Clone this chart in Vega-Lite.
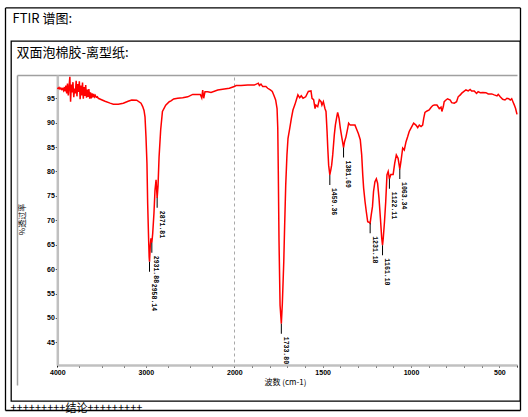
{
  "$schema": "https://vega.github.io/schema/vega-lite/v6.json",
  "width": 509,
  "height": 360,
  "autosize": {"type": "none"},
  "padding": {"left": 11, "top": 41, "right": 8, "bottom": 16},
  "background": "white",
  "config": {
    "view": {"stroke": "black", "strokeWidth": 1.3},
    "font": "Liberation Sans",
    "axis": {"labelColor": "black", "titleColor": "black", "labelOverlap": false, "labelBound": false, "labelFlush": false}
  },
  "datasets": {
    "spectrum": [
      {"wn": 4000, "T": 97.1}, {"wn": 3990, "T": 97.0}, {"wn": 3980, "T": 97.2}, {"wn": 3970, "T": 96.9},
      {"wn": 3960, "T": 97.1}, {"wn": 3950, "T": 96.8}, {"wn": 3940, "T": 97.0}, {"wn": 3930, "T": 96.6},
      {"wn": 3920, "T": 97.3}, {"wn": 3912, "T": 96.4}, {"wn": 3903, "T": 97.6}, {"wn": 3894, "T": 96.0},
      {"wn": 3885, "T": 98.0}, {"wn": 3876, "T": 95.6}, {"wn": 3867, "T": 97.4}, {"wn": 3858, "T": 99.4},
      {"wn": 3850, "T": 94.3}, {"wn": 3841, "T": 97.8}, {"wn": 3832, "T": 96.2}, {"wn": 3823, "T": 98.3},
      {"wn": 3814, "T": 95.2}, {"wn": 3805, "T": 97.0}, {"wn": 3796, "T": 96.0}, {"wn": 3787, "T": 98.6},
      {"wn": 3778, "T": 95.4}, {"wn": 3769, "T": 97.9}, {"wn": 3760, "T": 96.3}, {"wn": 3751, "T": 98.5},
      {"wn": 3742, "T": 94.8}, {"wn": 3733, "T": 97.6}, {"wn": 3724, "T": 95.6}, {"wn": 3715, "T": 98.2},
      {"wn": 3706, "T": 94.9}, {"wn": 3697, "T": 97.3}, {"wn": 3688, "T": 95.5}, {"wn": 3679, "T": 97.7},
      {"wn": 3670, "T": 95.1}, {"wn": 3661, "T": 96.8}, {"wn": 3652, "T": 95.3}, {"wn": 3643, "T": 96.9},
      {"wn": 3634, "T": 94.9}, {"wn": 3625, "T": 96.2}, {"wn": 3616, "T": 95.0}, {"wn": 3607, "T": 96.0},
      {"wn": 3598, "T": 95.2}, {"wn": 3589, "T": 95.9}, {"wn": 3580, "T": 95.3}, {"wn": 3571, "T": 95.6},
      {"wn": 3560, "T": 95.2}, {"wn": 3548, "T": 95.3}, {"wn": 3537, "T": 95.0}, {"wn": 3500, "T": 94.7},
      {"wn": 3461, "T": 94.4}, {"wn": 3404, "T": 94.0}, {"wn": 3367, "T": 93.8}, {"wn": 3311, "T": 93.8},
      {"wn": 3254, "T": 94.0}, {"wn": 3200, "T": 94.4}, {"wn": 3159, "T": 94.65}, {"wn": 3103, "T": 94.6},
      {"wn": 3054, "T": 94.0}, {"wn": 3035, "T": 93.3}, {"wn": 3020, "T": 92.5}, {"wn": 3009, "T": 91.2},
      {"wn": 2998, "T": 87.1}, {"wn": 2987, "T": 81.7}, {"wn": 2979, "T": 73.5}, {"wn": 2968, "T": 66.0},
      {"wn": 2962, "T": 62.5}, {"wn": 2958.14, "T": 61.5}, {"wn": 2950, "T": 64.5}, {"wn": 2942, "T": 66.3},
      {"wn": 2937, "T": 65.8}, {"wn": 2931.88, "T": 65.4}, {"wn": 2922, "T": 67.3}, {"wn": 2908, "T": 71.4},
      {"wn": 2896, "T": 76.2}, {"wn": 2884, "T": 78.3}, {"wn": 2871.81, "T": 74.6}, {"wn": 2862, "T": 77.0},
      {"wn": 2850, "T": 83.0}, {"wn": 2832, "T": 88.5}, {"wn": 2812, "T": 92.3}, {"wn": 2775, "T": 93.6},
      {"wn": 2735, "T": 94.3}, {"wn": 2715, "T": 94.45}, {"wn": 2685, "T": 94.85}, {"wn": 2640, "T": 95.0},
      {"wn": 2583, "T": 95.1}, {"wn": 2526, "T": 95.3}, {"wn": 2470, "T": 95.8}, {"wn": 2384, "T": 95.8},
      {"wn": 2368, "T": 95.1}, {"wn": 2357, "T": 96.7}, {"wn": 2346, "T": 95.0}, {"wn": 2331, "T": 96.35},
      {"wn": 2300, "T": 96.35}, {"wn": 2263, "T": 96.2}, {"wn": 2187, "T": 96.7}, {"wn": 2113, "T": 96.9},
      {"wn": 2056, "T": 97.05}, {"wn": 2000, "T": 97.4}, {"wn": 1990, "T": 97.6}, {"wn": 1962, "T": 97.6},
      {"wn": 1924, "T": 97.7}, {"wn": 1887, "T": 97.7}, {"wn": 1864, "T": 98.1}, {"wn": 1858, "T": 97.6},
      {"wn": 1849, "T": 97.9}, {"wn": 1839, "T": 97.4}, {"wn": 1821, "T": 97.4}, {"wn": 1811, "T": 97.05},
      {"wn": 1796, "T": 96.7}, {"wn": 1785, "T": 96.4}, {"wn": 1775, "T": 95.5}, {"wn": 1766, "T": 94.65},
      {"wn": 1758, "T": 92.9}, {"wn": 1754, "T": 88.9}, {"wn": 1751, "T": 80.0}, {"wn": 1747, "T": 66.0},
      {"wn": 1741, "T": 52.6}, {"wn": 1733.8, "T": 48.8}, {"wn": 1728, "T": 53.0}, {"wn": 1720, "T": 61.5},
      {"wn": 1715, "T": 69.0}, {"wn": 1709, "T": 77.2}, {"wn": 1702, "T": 83.4}, {"wn": 1696, "T": 86.8},
      {"wn": 1686, "T": 88.9}, {"wn": 1677, "T": 90.9}, {"wn": 1668, "T": 92.6}, {"wn": 1658, "T": 93.6},
      {"wn": 1649, "T": 94.65}, {"wn": 1640, "T": 95.7}, {"wn": 1630, "T": 95.1}, {"wn": 1621, "T": 95.5},
      {"wn": 1611, "T": 95.0}, {"wn": 1596, "T": 95.3}, {"wn": 1581, "T": 96.4}, {"wn": 1566, "T": 96.5},
      {"wn": 1560, "T": 95.0}, {"wn": 1551, "T": 94.7}, {"wn": 1543, "T": 92.9}, {"wn": 1538, "T": 93.6},
      {"wn": 1528, "T": 93.3}, {"wn": 1519, "T": 94.7}, {"wn": 1509, "T": 94.3}, {"wn": 1504, "T": 93.6},
      {"wn": 1496, "T": 94.3}, {"wn": 1487, "T": 92.9}, {"wn": 1481, "T": 92.3}, {"wn": 1475, "T": 88.2},
      {"wn": 1471, "T": 84.8}, {"wn": 1466, "T": 81.3}, {"wn": 1459.36, "T": 79.3}, {"wn": 1454, "T": 80.3},
      {"wn": 1449, "T": 81.3}, {"wn": 1443, "T": 83.4}, {"wn": 1434, "T": 87.5}, {"wn": 1428, "T": 89.5},
      {"wn": 1420, "T": 91.2}, {"wn": 1415, "T": 92.1}, {"wn": 1407, "T": 90.9}, {"wn": 1400, "T": 88.9},
      {"wn": 1392, "T": 87.1}, {"wn": 1381.69, "T": 84.9}, {"wn": 1376, "T": 86.1}, {"wn": 1368, "T": 87.1},
      {"wn": 1358, "T": 88.9}, {"wn": 1353, "T": 89.9}, {"wn": 1344, "T": 89.5}, {"wn": 1330, "T": 89.5},
      {"wn": 1317, "T": 89.5}, {"wn": 1306, "T": 88.5}, {"wn": 1298, "T": 87.8}, {"wn": 1287, "T": 86.5},
      {"wn": 1279, "T": 83.4}, {"wn": 1273, "T": 79.3}, {"wn": 1268, "T": 76.6}, {"wn": 1260, "T": 73.8},
      {"wn": 1253, "T": 71.8}, {"wn": 1245, "T": 69.7}, {"wn": 1238, "T": 69.6}, {"wn": 1231.18, "T": 69.4},
      {"wn": 1225, "T": 71.1}, {"wn": 1218, "T": 72.8}, {"wn": 1212, "T": 75.9}, {"wn": 1204, "T": 77.9},
      {"wn": 1196, "T": 78.5}, {"wn": 1189, "T": 77.6}, {"wn": 1181, "T": 74.5}, {"wn": 1173, "T": 70.4},
      {"wn": 1166, "T": 66.5}, {"wn": 1161.1, "T": 64.9}, {"wn": 1157, "T": 66.3}, {"wn": 1150, "T": 69.7},
      {"wn": 1143, "T": 73.8}, {"wn": 1136, "T": 79.3}, {"wn": 1129, "T": 80.0}, {"wn": 1122.11, "T": 78.5},
      {"wn": 1114, "T": 79.4}, {"wn": 1101, "T": 79.4}, {"wn": 1092, "T": 81.7}, {"wn": 1083, "T": 83.4},
      {"wn": 1073, "T": 82.7}, {"wn": 1063.34, "T": 80.5}, {"wn": 1057, "T": 82.0}, {"wn": 1047, "T": 84.8},
      {"wn": 1038, "T": 84.4}, {"wn": 1028, "T": 86.1}, {"wn": 1019, "T": 87.1}, {"wn": 1010, "T": 88.2},
      {"wn": 1000, "T": 88.9}, {"wn": 985, "T": 89.9}, {"wn": 972, "T": 89.5}, {"wn": 962, "T": 89.0},
      {"wn": 953, "T": 89.5}, {"wn": 943, "T": 89.2}, {"wn": 934, "T": 89.5}, {"wn": 928, "T": 90.9},
      {"wn": 921, "T": 92.1}, {"wn": 909, "T": 92.4}, {"wn": 897, "T": 92.6}, {"wn": 887, "T": 93.1},
      {"wn": 877, "T": 93.5}, {"wn": 868, "T": 93.6}, {"wn": 853, "T": 93.6}, {"wn": 840, "T": 92.9},
      {"wn": 830, "T": 93.2}, {"wn": 825, "T": 92.3}, {"wn": 817, "T": 93.3}, {"wn": 812, "T": 94.3},
      {"wn": 802, "T": 94.65}, {"wn": 793, "T": 94.9}, {"wn": 778, "T": 94.65}, {"wn": 770, "T": 94.1},
      {"wn": 755, "T": 94.0}, {"wn": 742, "T": 94.3}, {"wn": 733, "T": 95.3}, {"wn": 721, "T": 95.7},
      {"wn": 714, "T": 96.0}, {"wn": 702, "T": 96.35}, {"wn": 689, "T": 96.7}, {"wn": 676, "T": 96.5},
      {"wn": 665, "T": 96.8}, {"wn": 657, "T": 96.5}, {"wn": 642, "T": 96.5}, {"wn": 629, "T": 96.0},
      {"wn": 620, "T": 96.35}, {"wn": 608, "T": 96.15}, {"wn": 594, "T": 96.2}, {"wn": 576, "T": 96.15},
      {"wn": 563, "T": 95.9}, {"wn": 543, "T": 95.9}, {"wn": 529, "T": 95.7}, {"wn": 513, "T": 95.5},
      {"wn": 506, "T": 95.8}, {"wn": 495, "T": 95.3}, {"wn": 481, "T": 94.8}, {"wn": 468, "T": 94.65},
      {"wn": 457, "T": 95.0}, {"wn": 447, "T": 94.9}, {"wn": 438, "T": 94.65}, {"wn": 430, "T": 94.9},
      {"wn": 423, "T": 94.3}, {"wn": 415, "T": 93.6}, {"wn": 408, "T": 92.9}, {"wn": 400, "T": 91.7}
    ],
    "peaks": [
      {"wn": 2958.14, "T": 61.5, "label": "2958.14"},
      {"wn": 2931.88, "T": 65.4, "label": "2931.88"},
      {"wn": 2871.81, "T": 74.6, "label": "2871.81"},
      {"wn": 1733.80, "T": 48.8, "label": "1733.80"},
      {"wn": 1459.36, "T": 79.3, "label": "1459.36"},
      {"wn": 1381.69, "T": 84.9, "label": "1381.69"},
      {"wn": 1231.18, "T": 69.4, "label": "1231.18"},
      {"wn": 1161.10, "T": 64.9, "label": "1161.10"},
      {"wn": 1122.11, "T": 78.5, "label": "1122.11"},
      {"wn": 1063.34, "T": 80.5, "label": "1063.34"}
    ]
  },
  "layer": [
    {
      "layer": [
        {
          "data": {"name": "spectrum"},
          "mark": {"type": "line", "color": "#ff0000", "strokeWidth": 1.5},
          "encoding": {
            "x": {
              "field": "wn", "type": "quantitative",
              "scale": {"domain": [4000, 2000, 400], "range": [46.3, 223.3, 506], "nice": false, "zero": false},
              "axis": {
                "orient": "bottom", "offset": -36, "tickCount": 200,
                "values": [4000, 3750, 3500, 3250, 3000, 2750, 2500, 2250, 2000, 1900, 1800, 1700, 1600, 1500, 1400, 1300, 1200, 1100, 1000, 900, 800, 700, 600, 500, 400],
                "format": "d",
                "labelExpr": "indexof([4000,3000,2000,1500,1000,500], datum.value) >= 0 ? datum.label : ''",
                "domainColor": "#c0c0c0", "domainWidth": 2.5,
                "tickColor": "black", "tickSize": 2, "tickWidth": 1,
                "labelFont": "Liberation Sans", "labelFontSize": 7, "labelFontWeight": "bold",
                "labelPadding": 1.5, "labelFlush": false, "labelOverlap": false, "labelBound": false,
                "grid": true, "gridDash": [3, 3], "gridColor": "#a8a8a8",
                "gridOpacity": {"condition": {"test": "datum.value == 2000", "value": 1}, "value": 0},
                "title": "波数 (cm-1)", "titleX": 274, "titleY": 17, "titleAlign": "center", "titleBaseline": "middle",
                "titleFont": "Noto Sans CJK SC", "titleFontSize": 8, "titleFontWeight": "normal"
              }
            },
            "y": {
              "field": "T", "type": "quantitative",
              "scale": {"domain": [40.35, 99.77], "range": [324, 34], "nice": false, "zero": false},
              "axis": {
                "orient": "left", "offset": -46.3, "tickCount": 200,
                "values": [45, 50, 55, 60, 65, 70, 75, 80, 85, 90, 95],
                "format": "d",
                "domainColor": "#c0c0c0", "domainWidth": 2.5,
                "tickColor": "black", "tickSize": 2, "tickWidth": 1,
                "labelFont": "Liberation Sans", "labelFontSize": 7, "labelFontWeight": "bold", "labelPadding": 1,
                "labelOverlap": false, "labelBound": false,
                "grid": false,
                "title": "%透过率", "titleX": -34.8, "titleY": 178, "titleAngle": -90,
                "titleAlign": "center", "titleBaseline": "middle",
                "titleFont": "Noto Sans CJK SC", "titleFontSize": 8, "titleFontWeight": "normal"
              }
            }
          }
        },
        {
          "data": {"name": "peaks"},
          "mark": {"type": "tick", "orient": "vertical", "color": "black", "size": 10, "thickness": 1, "yOffset": 5, "opacity": 1},
          "encoding": {
            "x": {"field": "wn", "type": "quantitative"},
            "y": {"field": "T", "type": "quantitative"}
          }
        },
        {
          "data": {"name": "peaks"},
          "transform": [{"filter": "datum.label != '2958.14'"}],
          "mark": {"type": "text", "angle": 90, "align": "left", "baseline": "alphabetic", "yOffset": 13, "xOffset": 2.5,
                   "font": "Liberation Mono", "fontSize": 6.5, "fontWeight": "bold", "color": "black"},
          "encoding": {
            "x": {"field": "wn", "type": "quantitative"},
            "y": {"field": "T", "type": "quantitative"},
            "text": {"field": "label"}
          }
        },
        {
          "data": {"name": "peaks"},
          "transform": [{"filter": "datum.label == '2958.14'"}],
          "mark": {"type": "text", "angle": 90, "align": "left", "baseline": "alphabetic", "yOffset": 22, "xOffset": 2.5,
                   "font": "Liberation Mono", "fontSize": 6.5, "fontWeight": "bold", "color": "black"},
          "encoding": {
            "x": {"field": "wn", "type": "quantitative"},
            "y": {"field": "T", "type": "quantitative"},
            "text": {"field": "label"}
          }
        }
      ]
    },
    {
      "data": {"name": "peaks"},
      "mark": {"type": "point", "opacity": 0},
      "encoding": {
        "x": {
          "field": "wn", "type": "quantitative",
          "scale": {"domain": [4000, 400], "range": [6, 506], "nice": false, "zero": false},
          "axis": {
            "orient": "top", "offset": -34, "domainColor": "#a0a0a0", "domainWidth": 1.5,
            "ticks": false, "labels": false, "grid": false,
            "title": "双面泡棉胶-离型纸:", "titleX": 5, "titleY": -23, "titleAlign": "left", "titleBaseline": "middle", "titleAngle": 0,
            "titleFont": "Noto Sans CJK SC", "titleFontSize": 13, "titleFontWeight": "normal"
          }
        },
        "y": {
          "field": "T", "type": "quantitative",
          "scale": {"domain": [40, 100], "range": [344, 34], "nice": false, "zero": false},
          "axis": {"orient": "left", "offset": -6, "domainColor": "#a0a0a0", "domainWidth": 1.5, "ticks": false, "labels": false, "grid": false, "title": null}
        }
      }
    },
    {
      "data": {"name": "peaks"},
      "mark": {"type": "point", "opacity": 0},
      "encoding": {
        "x": {
          "field": "wn", "type": "quantitative",
          "scale": {"domain": [4000, 400], "range": [-6, 509], "nice": false, "zero": false},
          "axis": {
            "orient": "top", "offset": 33.6, "domainColor": "black", "domainWidth": 1.3,
            "ticks": false, "labels": false, "grid": false,
            "title": "FTIR 谱图:", "titleX": 1, "titleY": 10.9, "titleAlign": "left", "titleBaseline": "middle", "titleAngle": 0,
            "titleFont": "Noto Sans CJK SC", "titleFontSize": 13, "titleFontWeight": "normal"
          }
        },
        "y": {
          "field": "T", "type": "quantitative",
          "scale": {"domain": [40, 100], "range": [369, -33.6], "nice": false, "zero": false},
          "axis": {"orient": "left", "offset": 6, "domainColor": "black", "domainWidth": 1.3, "ticks": false, "labels": false, "grid": false, "title": null}
        }
      }
    },
    {
      "data": {"name": "peaks"},
      "mark": {"type": "point", "opacity": 0},
      "encoding": {
        "x": {
          "field": "wn", "type": "quantitative",
          "scale": {"domain": [4000, 400], "range": [-6, 509], "nice": false, "zero": false},
          "axis": {
            "orient": "bottom", "offset": 9, "domainColor": "black", "domainWidth": 1.3,
            "ticks": false, "labels": false, "grid": false,
            "title": "+++++++++结论+++++++++", "titleX": -1, "titleY": -1.5, "titleAlign": "left", "titleBaseline": "middle", "titleAngle": 0,
            "titleFont": "Noto Sans CJK SC", "titleFontSize": 11, "titleFontWeight": "normal"
          }
        },
        "y": {
          "field": "T", "type": "quantitative",
          "scale": {"domain": [40, 100], "range": [369, -33.6], "nice": false, "zero": false},
          "axis": {"orient": "right", "offset": 0, "domainColor": "black", "domainWidth": 1.3, "ticks": false, "labels": false, "grid": false, "title": null}
        }
      }
    }
  ],
  "resolve": {
    "scale": {"x": "independent", "y": "independent"},
    "axis": {"x": "independent", "y": "independent"}
  }
}
